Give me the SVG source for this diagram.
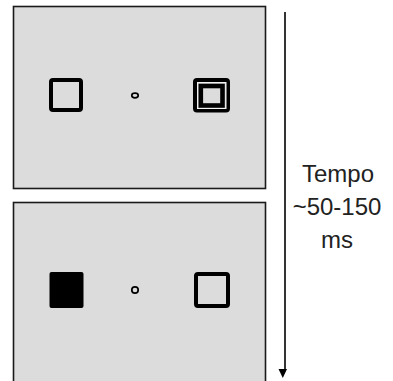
<svg xmlns="http://www.w3.org/2000/svg" width="393" height="381" viewBox="0 0 393 381">
<style>
.panel{fill:#dcdcdc;stroke:#1a1a1a;stroke-width:1.6}
.box{fill:none;stroke:#000;stroke-width:4}
.dot{fill:none;stroke:#000;stroke-width:1.7}
.lbl{font-family:"Liberation Sans",Arial,sans-serif;font-size:24px;fill:#222;text-anchor:middle}
</style>
<rect width="393" height="381" fill="#fff"/>
<g id="panel-top">
<rect class="panel" x="13.5" y="6.5" width="252" height="182"/>
<rect class="box" x="51" y="80" width="30" height="30" rx="2"/>
<ellipse class="dot" cx="135" cy="95.5" rx="3.2" ry="2.3"/>
<rect class="box" x="195" y="80" width="33" height="30.5" rx="2"/>
<rect x="197.5" y="82.5" width="28.5" height="26" fill="none" stroke="#f2f2f2" stroke-width="1"/>
<rect x="200.8" y="86" width="21.7" height="19.5" fill="none" stroke="#000" stroke-width="4.6"/>
</g>
<g id="panel-bottom">
<rect class="panel" x="13.5" y="202.5" width="252" height="190"/>
<rect x="49.5" y="272" width="34" height="36" rx="2" fill="#000"/>
<circle class="dot" cx="135" cy="290" r="3.2"/>
<rect class="box" x="196" y="274" width="32" height="32" rx="2"/>
</g>
<g id="time-label">
<text class="lbl" x="338" y="181.5">Tempo</text>
<text class="lbl" x="337" y="215">~50-150</text>
<text class="lbl" x="337" y="248">ms</text>
</g>
<g id="connectors">
<line x1="285" y1="12" x2="285" y2="371" stroke="#000" stroke-width="1.6"/>
<polygon points="278.5,369 287,369 282.8,378" fill="#000"/>
</g>
</svg>
